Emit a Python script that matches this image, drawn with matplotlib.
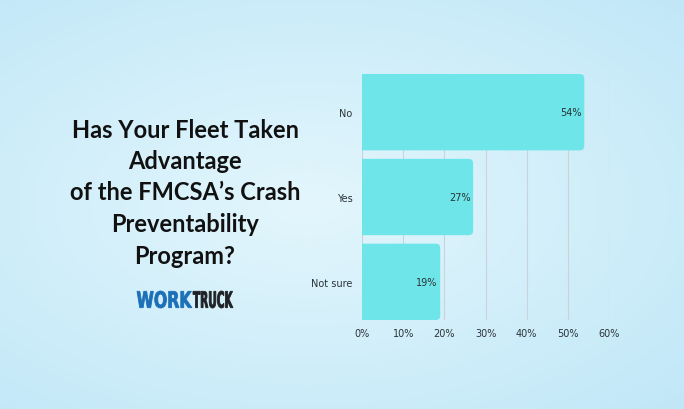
import matplotlib.pyplot as plt
from matplotlib.patches import FancyBboxPatch, PathPatch
from matplotlib.textpath import TextPath
from matplotlib.font_manager import FontProperties
from matplotlib.transforms import Affine2D
import numpy as np

categories = ["No", "Yes", "Not sure"]
values = [54, 27, 19]
xticks = [0, 10, 20, 30, 40, 50, 60]
title_lines = ["Has Your Fleet Taken", "Advantage", "of the FMCSA\u2019s Crash",
               "Preventability", "Program?"]

bar_color = "#6ee5e8"
text_color = "#2b3338"

fig = plt.figure(figsize=(6.84, 4.10), dpi=100)

# soft blue background
bg = fig.add_axes([0, 0, 1, 1])
yy, xx = np.mgrid[0:1:200j, 0:1:340j]
d = np.sqrt(((xx - 0.45) / 0.8) ** 2 + ((yy - 0.5) / 0.75) ** 2)
light = np.array([0.89, 0.965, 0.99])
edge = np.array([0.75, 0.905, 0.97])
t = np.clip(d, 0, 1)[..., None]
img = light * (1 - t) + edge * t
bg.imshow(img, extent=[0, 1, 0, 1], aspect="auto", origin="lower")
bg.set_xlim(0, 1)
bg.set_ylim(0, 1)
bg.axis("off")

ax = fig.add_axes([362 / 684, 1 - 321 / 410, 247 / 684, 246 / 410])
ax.patch.set_alpha(0)
ypos = np.arange(len(categories))
bars = ax.barh(ypos, values, height=0.9, color="none")
ax.set_xlim(0, 60)
ax.set_ylim(len(categories) - 0.55, -0.45)

xpp = 60 / 247
ypp = (len(categories) - 0.1) / 246
for b, v in zip(bars, values):
    y0 = b.get_y()
    h = b.get_height()
    p = FancyBboxPatch((-3, y0), v + 3, h,
                       boxstyle="round,pad=0,rounding_size=1.1",
                       mutation_aspect=ypp / xpp,
                       facecolor=bar_color, edgecolor="none", zorder=2,
                       clip_on=True)
    ax.add_patch(p)
    ax.text(v - 0.6, y0 + h / 2, f"{v}%", ha="right", va="center",
            fontsize=7, color=text_color, zorder=3)

ax.set_xticks(xticks)
ax.set_xticklabels([f"{x}%" for x in xticks])
ax.set_yticks(ypos)
ax.set_yticklabels(categories)
ax.tick_params(length=0, labelsize=7, colors=text_color)
ax.tick_params(axis="x", pad=6)
ax.tick_params(axis="y", pad=7)
ax.grid(axis="x", color="#c9d3da", linewidth=0.8, zorder=0)
ax.set_axisbelow(True)
for s in ax.spines.values():
    s.set_visible(False)

# title block
for i, line in enumerate(title_lines):
    fig.text(185 / 684, 1 - (130 + i * 31.5) / 410, line, ha="center",
             va="center", fontsize=17, fontweight="bold", family="Lato",
             color="#111111")


# condensed logo, squeezed into pixel boxes
def word(s, x0, x1, ytop, ybot, color):
    tp = TextPath((0, 0), s, size=1,
                  prop=FontProperties(family="DejaVu Sans", weight="bold"))
    ext = tp.get_extents()
    sx = (x1 - x0) / ext.width
    sy = (ybot - ytop) / ext.height
    tr = (Affine2D().translate(-ext.x0, -ext.y0).scale(sx, sy)
          .translate(x0, 410 - ybot).scale(1 / 100) + fig.dpi_scale_trans)
    fig.add_artist(PathPatch(tp, transform=tr, facecolor=color,
                             edgecolor=color, linewidth=0.6))


word("WORK", 137, 192, 292, 309, "#1b70b8")
word("TRUCK", 193, 233, 292, 309, "#1e2226")

fig.savefig("out.png", dpi=100)
